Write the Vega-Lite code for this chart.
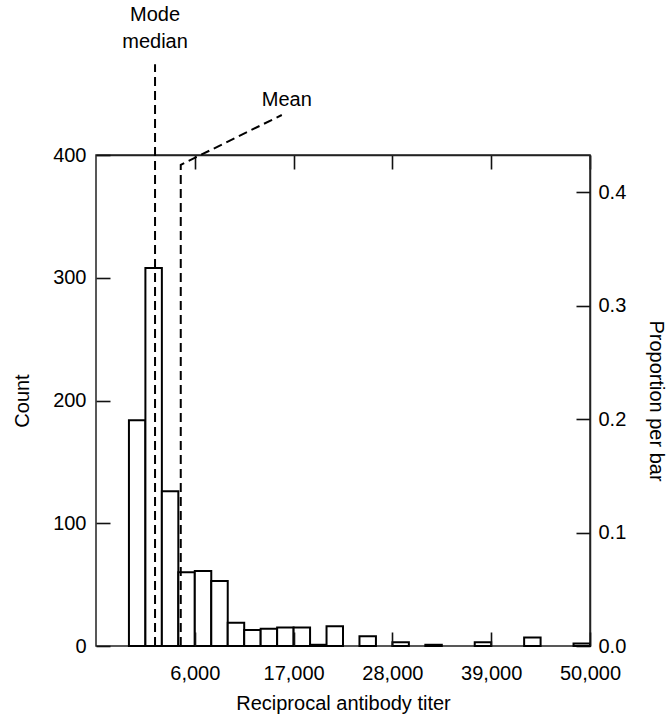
{
  "$schema": "https://vega.github.io/schema/vega-lite/v6.json",
  "autosize": {"type": "none"},
  "padding": {"left": 96, "top": 155, "right": 77, "bottom": 70},
  "width": 494,
  "height": 491,
  "background": "white",
  "config": {
    "view": {"stroke": "#222", "strokeWidth": 1.5},
    "font": "Liberation Sans",
    "axis": {
      "labelFont": "Liberation Sans",
      "titleFont": "Liberation Sans",
      "labelFontSize": 20,
      "titleFontSize": 20,
      "titleFontWeight": "normal",
      "labelColor": "black",
      "titleColor": "black",
      "domainColor": "#222",
      "domainWidth": 1.5,
      "tickColor": "#111",
      "tickWidth": 1.6,
      "labelFlush": false,
      "labelOverlap": false,
      "labelBound": false,
      "grid": false
    }
  },
  "datasets": {
    "bars": [
      {"start": -1333.3, "end": 500, "count": 184},
      {"start": 500, "end": 2333.3, "count": 308},
      {"start": 2333.3, "end": 4166.7, "count": 126},
      {"start": 4166.7, "end": 6000, "count": 60},
      {"start": 6000, "end": 7833.3, "count": 61},
      {"start": 7833.3, "end": 9666.7, "count": 53},
      {"start": 9666.7, "end": 11500, "count": 19},
      {"start": 11500, "end": 13333.3, "count": 13},
      {"start": 13333.3, "end": 15166.7, "count": 14},
      {"start": 15166.7, "end": 17000, "count": 15},
      {"start": 17000, "end": 18833.3, "count": 15},
      {"start": 18833.3, "end": 20666.7, "count": 1},
      {"start": 20666.7, "end": 22500, "count": 16},
      {"start": 24333.3, "end": 26166.7, "count": 8},
      {"start": 28000, "end": 29833.3, "count": 3},
      {"start": 31666.7, "end": 33500, "count": 1},
      {"start": 37166.7, "end": 39000, "count": 3},
      {"start": 42666.7, "end": 44500, "count": 7},
      {"start": 48166.7, "end": 50000, "count": 2}
    ],
    "lines": [
      {"stat": "mode", "ord": 1, "x": 1573, "y": 0},
      {"stat": "mode", "ord": 2, "x": 1573, "y": 474},
      {"stat": "mean", "ord": 1, "x": 4436, "y": 0},
      {"stat": "mean", "ord": 2, "x": 4436, "y": 392},
      {"stat": "mean", "ord": 3, "x": 15688, "y": 432.6}
    ],
    "labels": [
      {"label": "Mode", "x": 1573, "y": 514},
      {"label": "median", "x": 1573, "y": 492},
      {"label": "Mean", "x": 16245, "y": 445}
    ],
    "prop": [
      {"x": 6000, "p": 0},
      {"x": 50000, "p": 0.4}
    ]
  },
  "layer": [
    {
      "layer": [
        {
          "data": {"name": "bars"},
          "mark": {"type": "bar", "fill": "white", "stroke": "black", "strokeWidth": 2},
          "encoding": {
            "x": {
              "field": "start", "type": "quantitative",
              "scale": {"domain": [-5000, 50000], "nice": false, "zero": false},
              "axis": {
                "orient": "bottom",
                "values": [6000, 17000, 28000, 39000, 50000],
                "labelExpr": "format(datum.value, ',')",
                "labelFlush": false,
                "domain": false,
                "offset": -14,
                "tickSize": 14,
                "labelPadding": 17,
                "title": "Reciprocal antibody titer",
                "titlePadding": 10,
                "zindex": 1
              }
            },
            "x2": {"field": "end"},
            "y": {
              "field": "count", "type": "quantitative",
              "scale": {"domain": [0, 400], "nice": false},
              "axis": {
                "orient": "left",
                "values": [0, 100, 200, 300, 400],
                "domain": false,
                "offset": -14,
                "tickSize": 14,
                "labelPadding": 10,
                "title": "Count",
                "titlePadding": 20,
                "zindex": 1
              }
            },
            "y2": {"datum": 0}
          }
        },
        {
          "data": {"name": "lines"},
          "mark": {"type": "line", "color": "black", "strokeWidth": 2, "strokeDash": [9, 5], "clip": false},
          "encoding": {
            "x": {"field": "x", "type": "quantitative"},
            "y": {"field": "y", "type": "quantitative"},
            "detail": {"field": "stat"},
            "order": {"field": "ord"}
          }
        },
        {
          "data": {"name": "labels"},
          "mark": {"type": "text", "fontSize": 20, "font": "Liberation Sans", "color": "black", "align": "center", "baseline": "middle", "clip": false},
          "encoding": {
            "x": {"field": "x", "type": "quantitative"},
            "y": {"field": "y", "type": "quantitative"},
            "text": {"field": "label"}
          }
        }
      ]
    },
    {
      "data": {"name": "prop"},
      "mark": {"type": "point", "opacity": 0},
      "encoding": {
        "x": {
          "field": "x", "type": "quantitative",
          "axis": {
            "orient": "top",
            "values": [6000, 17000, 28000, 39000, 50000],
            "labels": false,
            "tickSize": -14,
            "title": null
          }
        },
        "y": {
          "field": "p", "type": "quantitative",
          "scale": {"domain": [0, 0.4326], "nice": false},
          "axis": {
            "orient": "right",
            "values": [0, 0.1, 0.2, 0.3, 0.4],
            "format": ".1f",
            "tickSize": -14,
            "labelPadding": 22,
            "title": "Proportion per bar",
            "titleAngle": 90,
            "titlePadding": 20
          }
        }
      }
    }
  ],
  "resolve": {
    "scale": {"y": "independent"},
    "axis": {"x": "independent", "y": "independent"}
  }
}
